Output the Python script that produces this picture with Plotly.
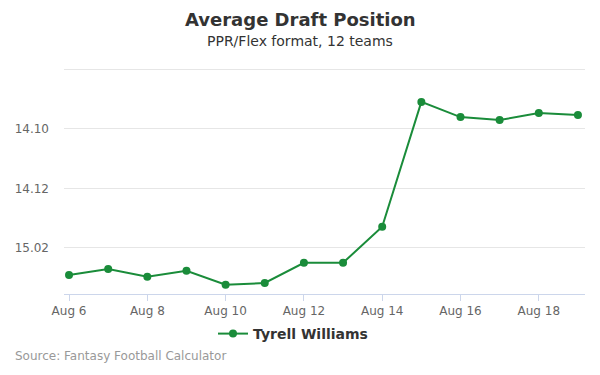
import plotly.graph_objects as go

dates = ["2023-08-06", "2023-08-07", "2023-08-08", "2023-08-09", "2023-08-10",
         "2023-08-11", "2023-08-12", "2023-08-13", "2023-08-14", "2023-08-15",
         "2023-08-16", "2023-08-17", "2023-08-18", "2023-08-19"]
adp = [170.91, 170.71, 170.97, 170.77, 171.24, 171.18, 170.50, 170.50, 169.29,
       165.09, 165.60, 165.70, 165.46, 165.53]
tick_vals = [164, 166, 168, 170]
tick_text = ["", "14.10", "14.12", "15.02"]
x_ticks = ["2023-08-06", "2023-08-08", "2023-08-10", "2023-08-12", "2023-08-14",
           "2023-08-16", "2023-08-18"]
x_tick_text = ["Aug 6", "Aug 8", "Aug 10", "Aug 12", "Aug 14", "Aug 16", "Aug 18"]

color = "#1a8c3a"
font = "DejaVu Sans"
W, H = 600, 375
ML, MR, MT, MB = 64, 15, 68, 81

fig = go.Figure()
fig.add_trace(go.Scatter(
    x=dates, y=adp, mode="lines+markers", name="Tyrell Williams",
    line=dict(color=color, width=2), marker=dict(color=color, size=8),
))

fig.update_layout(
    width=W, height=H,
    margin=dict(l=ML, r=MR, t=MT, b=MB, autoexpand=False),
    paper_bgcolor="white", plot_bgcolor="white",
    font=dict(family=font, color="#666666", size=12),
    showlegend=True,
    legend=dict(orientation="h", x=(293 - ML) / (W - ML - MR), xanchor="center",
                y=(H - MB - 318) / (H - MT - MB), yanchor="top",
                itemwidth=30,
                font=dict(size=14, color="#333333", family=font, weight="bold")),
    xaxis=dict(
        type="date",
        range=["2023-08-05 20:55", "2023-08-19 04:20"],
        tickvals=x_ticks, ticktext=x_tick_text,
        showgrid=False, showline=True, linecolor="#ccd6eb", linewidth=1,
        ticks="outside", ticklen=6, tickcolor="#ccd6eb",
        tickfont=dict(size=12, color="#666666"),
        zeroline=False,
    ),
    yaxis=dict(
        range=[171.55, 163.95],
        tickvals=tick_vals, ticktext=tick_text,
        showgrid=True, gridcolor="#e6e6e6", gridwidth=1,
        zeroline=False, showline=False,
        tickfont=dict(size=12, color="#666666"),
        ticks="", ticklabelstandoff=14,
    ),
)


def annot(text, px, py, size, color_, anchor="center"):
    fig.add_annotation(text=text, xref="paper", yref="paper",
                       x=(px - ML) / (W - ML - MR),
                       y=(H - MB - py) / (H - MT - MB),
                       xanchor=anchor, yanchor="middle", showarrow=False,
                       font=dict(size=size, color=color_, family=font))


annot("<b>Average Draft Position</b>", 300, 20, 18, "#333333")
annot("PPR/Flex format, 12 teams", 300, 41, 14, "#333333")
annot("Source: Fantasy Football Calculator", 13, 356, 12, "#999999", anchor="left")

fig.write_html("out.html", config={"displayModeBar": False},
               post_script="document.body.style.margin='0';document.body.style.padding='0';")
